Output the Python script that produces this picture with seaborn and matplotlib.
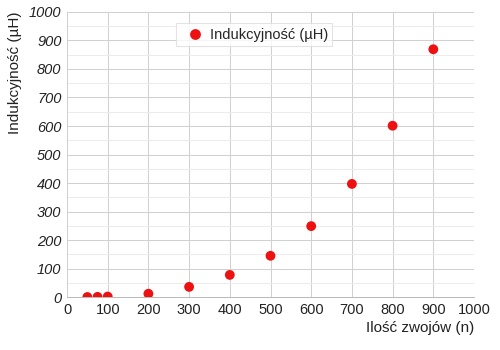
import matplotlib
matplotlib.use("Agg")
import matplotlib.pyplot as plt
import seaborn as sns
import pandas as pd
from matplotlib.ticker import MultipleLocator

turns = [50, 75, 100, 200, 300, 400, 500, 600, 700, 800, 900]
inductance = [0.5, 1, 2, 12, 36, 78, 145, 249, 397, 601, 869]
series_name = "Indukcyjność (µH)"
y_ticks = [0, 100, 200, 300, 400, 500, 600, 700, 800, 900, 1000]

df = pd.DataFrame({"x": turns, "y": inductance, "s": series_name})

sns.set_theme(style="white")
plt.rcParams['font.family'] = ['Liberation Sans', 'DejaVu Sans']

fig = plt.figure(figsize=(5, 3.5), dpi=100)
ax = fig.add_axes([0.134, 0.151, 0.814, 0.815])

sns.scatterplot(data=df, x="x", y="y", hue="s", palette=["#ee1111"], s=50,
                edgecolor="none", ax=ax, zorder=3)

ax.set_xlim(0, 1000)
ax.set_ylim(0, 1000)
ax.xaxis.set_major_locator(MultipleLocator(100))
ax.set_yticks(y_ticks)
ax.set_yticklabels([str(v) for v in y_ticks], fontstyle="italic")
ax.yaxis.set_minor_locator(MultipleLocator(50))
ax.grid(True, which="major", color="#d0d0d0", linewidth=0.7)
ax.grid(True, which="minor", axis="y", color="#ececec", linewidth=0.7)
ax.set_axisbelow(True)
for sp in ["top", "right"]:
    ax.spines[sp].set_visible(False)
ax.spines["left"].set_color("#d0d0d0")
ax.spines["left"].set_linewidth(0.7)
ax.spines["bottom"].set_color("#b8b8b8")
ax.spines["bottom"].set_linewidth(0.7)
ax.tick_params(axis="both", which="both", labelsize=10.5, colors="#222222", length=0, pad=4)

ax.set_xlabel("Ilość zwojów (n)", fontsize=11, color="#222222", loc="right", labelpad=3)
ax.set_ylabel("Indukcyjność (µH)", fontsize=11, color="#222222", loc="top", labelpad=5)

leg = ax.legend(loc="upper center", bbox_to_anchor=(0.46, 0.985), frameon=True,
                fontsize=10.5, handletextpad=0.0, borderpad=0.3, markerscale=1.1,
                fancybox=False)
leg.get_frame().set_edgecolor("#dddddd")
leg.get_frame().set_linewidth(0.8)

fig.savefig("out.png", dpi=100)
